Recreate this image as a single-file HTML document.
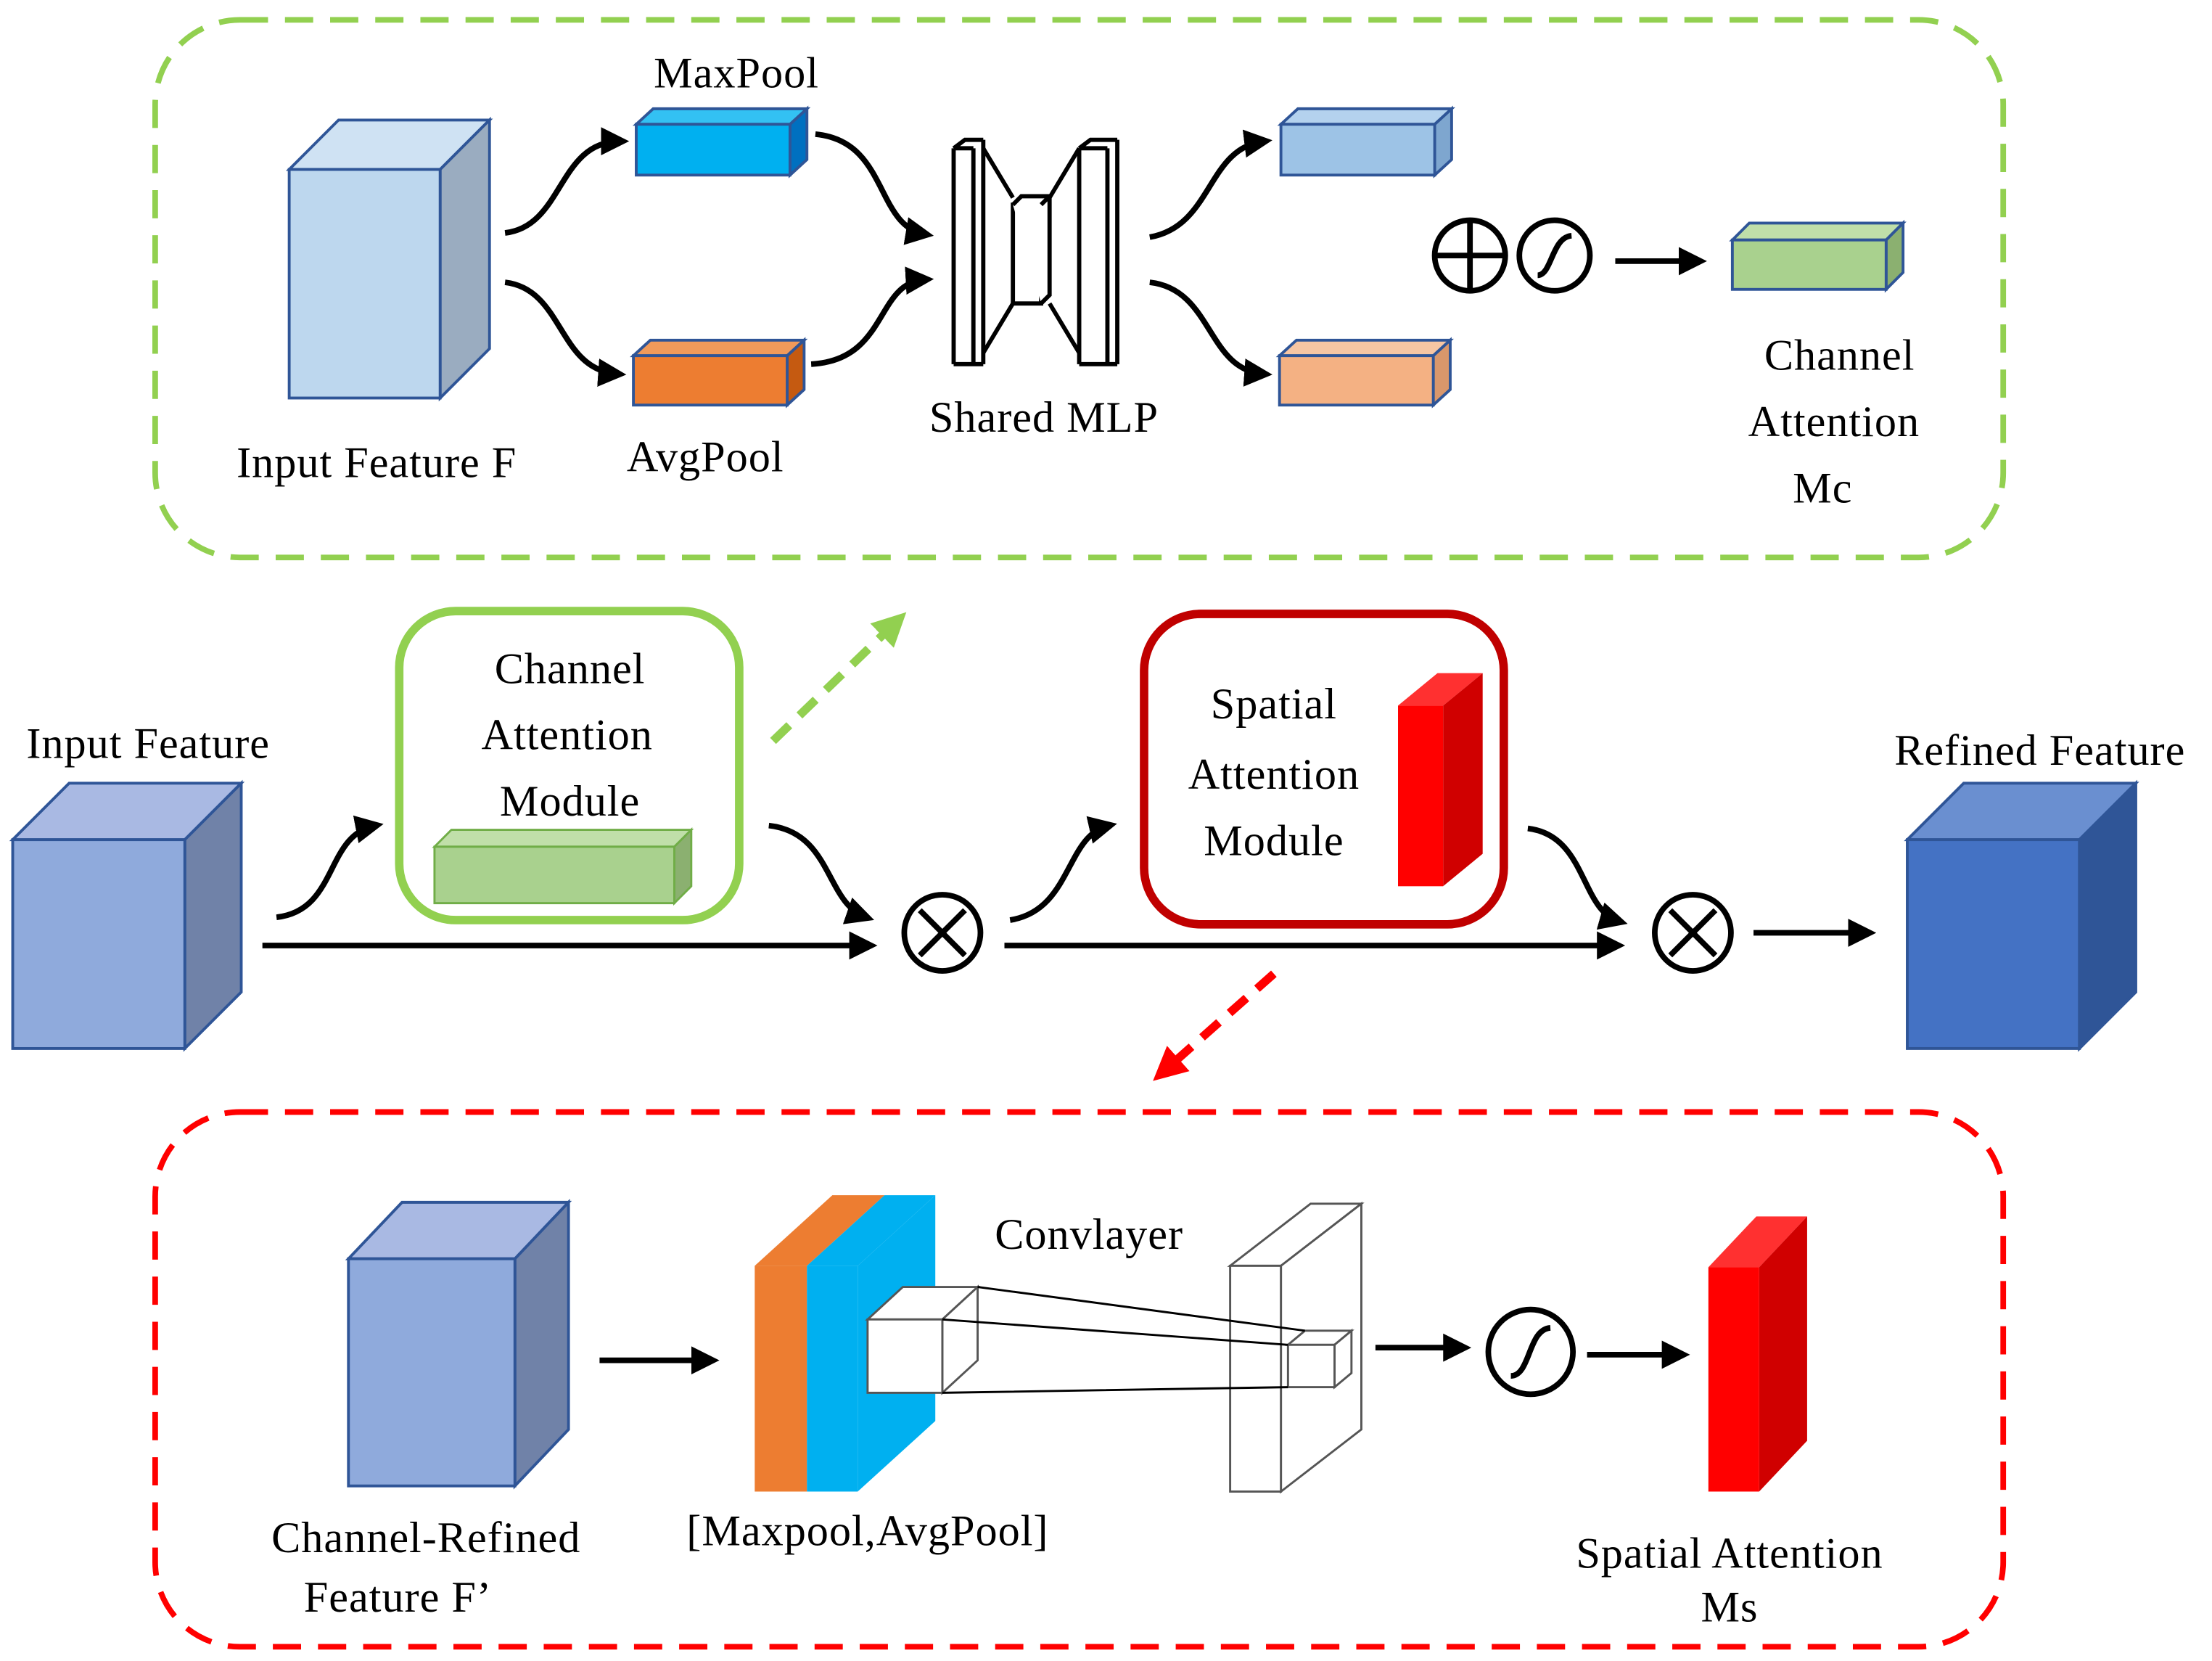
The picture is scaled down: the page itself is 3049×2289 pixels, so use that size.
<!DOCTYPE html>
<html><head><meta charset="utf-8"><style>html,body{margin:0;padding:0;background:#fff}svg{display:block}text{font-family:"Liberation Serif",serif;font-size:31px;fill:#000;text-anchor:middle;letter-spacing:0.5px}</style></head><body>
<svg width="3049" height="2289" viewBox="0 0 1568 1177" xmlns="http://www.w3.org/2000/svg">
<defs>
<marker id="ah" markerWidth="5" markerHeight="5" refX="3.5" refY="2.5" orient="auto" markerUnits="strokeWidth"><path d="M0,0 L5,2.5 L0,5 z" fill="#000"/></marker>
<marker id="ag" markerWidth="4" markerHeight="4" refX="2.5" refY="2" orient="auto" markerUnits="strokeWidth"><path d="M0,0 L4,2 L0,4 z" fill="#92d050"/></marker>
<marker id="ar" markerWidth="4" markerHeight="4" refX="2.5" refY="2" orient="auto" markerUnits="strokeWidth"><path d="M0,0 L4,2 L0,4 z" fill="#ff0000"/></marker>
</defs>
<rect x="110" y="14" width="1310" height="381" rx="60" fill="none" stroke="#92d050" stroke-width="4" stroke-dasharray="20,12"/>
<g stroke="#2f5597" stroke-width="2">
<polygon points="205,120 240,85 347,85 312,120" fill="#cfe2f3"/>
<polygon points="312,120 347,85 347,247 312,282" fill="#9aacc0"/>
<rect x="205" y="120" width="107" height="162" fill="#bdd7ee"/>
<polygon points="451,88 463,77 572,77 560,88" fill="#33c1f3"/><polygon points="560,88 572,77 572,113 560,124" fill="#0070c0"/><rect x="451" y="88" width="109" height="36" fill="#00b0f0"/>
<polygon points="449,252 461,241 570,241 558,252" fill="#f19a5a"/><polygon points="558,252 570,241 570,276 558,287" fill="#c55a11"/><rect x="449" y="252" width="109" height="35" fill="#ed7d31"/>
<polygon points="908,88 920,77 1029,77 1017,88" fill="#b4d2ee"/><polygon points="1017,88 1029,77 1029,113 1017,124" fill="#7ea6cf"/><rect x="908" y="88" width="109" height="36" fill="#9dc3e6"/>
<polygon points="907,252 919,241 1028,241 1016,252" fill="#f7c6a3"/><polygon points="1016,252 1028,241 1028,276 1016,287" fill="#d9976b"/><rect x="907" y="252" width="109" height="35" fill="#f4b183"/>
<polygon points="1228,170 1240,158 1349,158 1337,170" fill="#c0dfa9"/><polygon points="1337,170 1349,158 1349,193 1337,205" fill="#8bb070"/><rect x="1228" y="170" width="109" height="35" fill="#a9d18e"/>
</g>
<g fill="#fff" stroke="#000" stroke-width="3">
<path d="M676,105 L676,258 M697,99 L697,258 M676,105 L684,99 L697,99 M676,258 L697,258 M690,105 L690,258 M676,105 L690,105"/>
<path d="M765,105 L765,258 M792,99 L792,258 M765,105 L773,99 L792,99 M765,258 L792,258 M785,105 L785,258 M765,105 L785,105"/>
<rect x="718" y="145" width="20" height="70"/><path d="M718,145 L724,139 L744,139 L744,209 L738,215 M738,145 L744,139"/>
<path d="M697,105 L718,140 M697,250 L718,215 M765,105 L744,140 M765,250 L744,215"/>
</g>
<g fill="none" stroke="#000" stroke-width="4">
<path d="M358,165 C400,160 395,100 440,100" marker-end="url(#ah)"/>
<path d="M358,200 C400,205 395,262 438,265" marker-end="url(#ah)"/>
<path d="M578,95 C630,100 620,160 656,166" marker-end="url(#ah)"/>
<path d="M575,258 C630,255 620,200 656,198" marker-end="url(#ah)"/>
<path d="M815,168 C860,160 855,105 896,100" marker-end="url(#ah)"/>
<path d="M815,200 C860,205 855,262 896,265" marker-end="url(#ah)"/>
<path d="M1145,185 L1204,185" marker-end="url(#ah)"/>
<circle cx="1042" cy="181" r="25"/><path d="M1017,181 H1067 M1042,156 V206"/>
<circle cx="1102" cy="181" r="25"/><path d="M1090,195 C1100,195 1100,168 1114,167"/>
</g>
<text x="522" y="62">MaxPool</text>
<text x="267" y="338">Input Feature F</text>
<text x="500" y="334">AvgPool</text>
<text x="740" y="306">Shared MLP</text>
<text x="1304" y="262">Channel</text>
<text x="1300" y="309">Attention</text>
<text x="1292" y="356">Mc</text>
<text x="105" y="537">Input Feature</text>
<g stroke="#2f5597" stroke-width="2">
<polygon points="9,595 49,555 171,555 131,595" fill="#a9b9e3"/><polygon points="131,595 171,555 171,703 131,743" fill="#7082a8"/><rect x="9" y="595" width="122" height="148" fill="#8faadc"/>
<polygon points="1352,595 1392,555 1514,555 1474,595" fill="#6a8fd0"/><polygon points="1474,595 1514,555 1514,703 1474,743" fill="#2f5597"/><rect x="1352" y="595" width="122" height="148" fill="#4472c4"/>
</g>
<text x="1446" y="542">Refined Feature</text>
<rect x="283" y="433" width="241" height="219" rx="40" fill="none" stroke="#92d050" stroke-width="6"/>
<g stroke="#70ad47" stroke-width="1.5"><polygon points="308,600 320,588 490,588 478,600" fill="#c0dfa9"/><polygon points="478,600 490,588 490,628 478,640" fill="#8bb070"/><rect x="308" y="600" width="170" height="40" fill="#a9d18e"/></g>
<text x="404" y="484">Channel</text><text x="402" y="531">Attention</text><text x="404" y="578">Module</text>
<rect x="811" y="435" width="255" height="220" rx="40" fill="none" stroke="#c00000" stroke-width="6"/>
<polygon points="991,500 1019,477 1051,477 1023,500" fill="#ff3030"/><polygon points="1023,500 1051,477 1051,605 1023,628" fill="#d00000"/><rect x="991" y="500" width="32" height="128" fill="#ff0000"/>
<text x="903" y="509">Spatial</text><text x="903" y="559">Attention</text><text x="903" y="606">Module</text>
<path d="M548,525 L636,440" stroke="#92d050" stroke-width="6" stroke-dasharray="16,10" fill="none" marker-end="url(#ag)"/>
<path d="M903,690 L824,760" stroke="#ff0000" stroke-width="6" stroke-dasharray="16,10" fill="none" marker-end="url(#ar)"/>
<g fill="none" stroke="#000" stroke-width="4">
<path d="M186,670 L616,670" marker-end="url(#ah)"/>
<path d="M712,670 L1146,670" marker-end="url(#ah)"/>
<path d="M1243,661 L1324,661" marker-end="url(#ah)"/>
<path d="M196,650 C240,645 230,592 266,585" marker-end="url(#ah)"/>
<path d="M545,585 C590,590 585,640 614,650" marker-end="url(#ah)"/>
<path d="M716,652 C760,645 755,592 786,585" marker-end="url(#ah)"/>
<path d="M1083,587 C1125,592 1120,645 1148,653" marker-end="url(#ah)"/>
<circle cx="668" cy="661" r="27"/><path d="M652,645 L684,677 M684,645 L652,677"/>
<circle cx="1200" cy="661" r="27"/><path d="M1184,645 L1216,677 M1216,645 L1184,677"/>
</g>
<rect x="110" y="788" width="1310" height="379" rx="60" fill="none" stroke="#ff0000" stroke-width="4" stroke-dasharray="20,12"/>
<g stroke="#2f5597" stroke-width="2">
<polygon points="247,892 285,852 403,852 365,892" fill="#a9b9e3"/><polygon points="365,892 403,852 403,1013 365,1053" fill="#7082a8"/><rect x="247" y="892" width="118" height="161" fill="#8faadc"/>
</g>
<polygon points="535,897 590,847 627,847 572,897" fill="#ed7d31"/><rect x="535" y="897" width="37" height="160" fill="#ed7d31"/>
<polygon points="572,897 627,847 663,847 608,897" fill="#00b0f0"/><polygon points="608,897 663,847 663,1007 608,1057" fill="#00b0f0"/><rect x="572" y="897" width="36" height="160" fill="#00b0f0"/>
<g fill="#fff" stroke="#555" stroke-width="1.5">
<polygon points="872,897 929,853 965,853 908,897"/><polygon points="908,897 965,853 965,1013 908,1057"/><rect x="872" y="897" width="36" height="160"/>
<polygon points="615,935 640,912 693,912 668,935"/><polygon points="668,935 693,912 693,964 668,987"/><rect x="615" y="935" width="53" height="52"/>
<polygon points="913,953 925,943 958,943 946,953"/><polygon points="946,953 958,943 958,973 946,983"/><rect x="913" y="953" width="33" height="30"/>
</g>
<g stroke="#000" stroke-width="1.5"><path d="M668,935 L913,953 M693,912 L925,943 M668,987 L913,983"/></g>
<g fill="none" stroke="#000" stroke-width="4">
<path d="M425,964 L504,964" marker-end="url(#ah)"/>
<path d="M975,955 L1037,955" marker-end="url(#ah)"/>
<path d="M1125,960 L1192,960" marker-end="url(#ah)"/>
<circle cx="1085" cy="958" r="30"/><path d="M1071,975 C1085,975 1083,942 1099,941"/>
</g>
<polygon points="1211,898 1245,862 1281,862 1247,898" fill="#ff3030"/><polygon points="1247,898 1281,862 1281,1021 1247,1057" fill="#d00000"/><rect x="1211" y="898" width="36" height="159" fill="#ff0000"/>
<text x="772" y="885">Convlayer</text>
<text x="615" y="1095">[Maxpool,AvgPool]</text>
<text x="302" y="1100">Channel-Refined</text>
<text x="282" y="1142">Feature F’</text>
<text x="1226" y="1111">Spatial Attention</text>
<text x="1226" y="1149">Ms</text>
</svg>
</body></html>
